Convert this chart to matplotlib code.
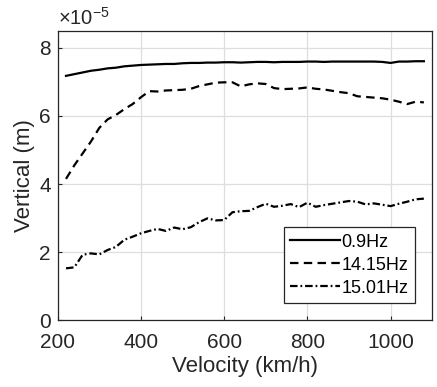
import matplotlib
matplotlib.use("Agg")
import matplotlib.pyplot as plt

plt.rcParams['font.family'] = ['Liberation Sans', 'DejaVu Sans']
plt.rcParams['mathtext.fontset'] = 'custom'
plt.rcParams['mathtext.rm'] = 'Liberation Sans'
plt.rcParams['mathtext.it'] = 'Liberation Sans'

# velocity (km/h)
speed = list(range(220, 1081, 20))

# vertical displacement, units of 1e-5 m
f09 = [7.18, 7.23, 7.28, 7.33, 7.36, 7.40, 7.42, 7.46, 7.48, 7.50,
       7.51, 7.52, 7.53, 7.53, 7.55, 7.56, 7.56, 7.57, 7.57, 7.58,
       7.58, 7.57, 7.58, 7.59, 7.59, 7.58, 7.59, 7.59, 7.59, 7.60,
       7.60, 7.59, 7.60, 7.60, 7.60, 7.60, 7.60, 7.60, 7.59, 7.56,
       7.60, 7.60, 7.61, 7.61]
f1415 = [4.15, 4.55, 4.90, 5.25, 5.65, 5.90, 6.03, 6.20, 6.35, 6.55,
         6.73, 6.72, 6.75, 6.76, 6.77, 6.80, 6.88, 6.93, 6.98, 6.99,
         6.99, 6.87, 6.93, 6.96, 6.94, 6.82, 6.79, 6.80, 6.81, 6.84,
         6.80, 6.78, 6.74, 6.70, 6.67, 6.58, 6.56, 6.54, 6.52, 6.48,
         6.42, 6.35, 6.42, 6.40]
f1501 = [1.52, 1.55, 1.92, 1.96, 1.93, 2.06, 2.15, 2.36, 2.45, 2.55,
         2.62, 2.68, 2.62, 2.72, 2.67, 2.73, 2.88, 2.99, 2.93, 2.94,
         3.17, 3.20, 3.21, 3.32, 3.42, 3.33, 3.36, 3.41, 3.32, 3.45,
         3.33, 3.38, 3.42, 3.46, 3.50, 3.48, 3.40, 3.43, 3.39, 3.35,
         3.42, 3.48, 3.55, 3.57]

txtc = '#262626'

fig = plt.figure(figsize=(4.37, 3.87), dpi=100)
ax = fig.add_axes([0.132, 0.173, 0.857, 0.747])

ax.plot(speed, f09, '-', color='k', lw=1.6, label='0.9Hz')
ax.plot(speed, f1415, '--', color='k', lw=1.6, dashes=(3.8, 2.4), label='14.15Hz')
ax.plot(speed, f1501, '-.', color='k', lw=1.6, dashes=(3.4, 1.3, 0.8, 1.3), label='15.01Hz')

ax.set_xlim(200, 1100)
ax.set_ylim(0, 8.5)
ax.set_xticks([200, 400, 600, 800, 1000])
ax.set_yticks([0, 2, 4, 6, 8])
ax.grid(True, color='#dedede', lw=0.9)
ax.set_axisbelow(True)
ax.tick_params(direction='in', length=3, labelsize=15, colors=txtc, width=0.8)
ax.tick_params(axis='x', pad=9)
ax.tick_params(axis='y', pad=5)
for s in ax.spines.values():
    s.set_color(txtc)
    s.set_linewidth(0.9)

ax.set_xlabel('Velocity (km/h)', fontsize=16, color=txtc, labelpad=3)
ax.set_ylabel('Vertical (m)', fontsize=16, color=txtc, labelpad=3)
ax.text(0.0, 1.008, r'$\times10^{-5}$', transform=ax.transAxes,
        fontsize=14.5, color=txtc, ha='left', va='bottom')

leg = ax.legend(loc='lower right', bbox_to_anchor=(0.954, 0.059), fontsize=13,
                fancybox=False, framealpha=1, edgecolor=txtc,
                handlelength=2.75, handletextpad=0.1, borderpad=0.35,
                labelspacing=0.33, borderaxespad=0)
leg.get_frame().set_linewidth(0.9)

fig.savefig('out.png', dpi=100)
